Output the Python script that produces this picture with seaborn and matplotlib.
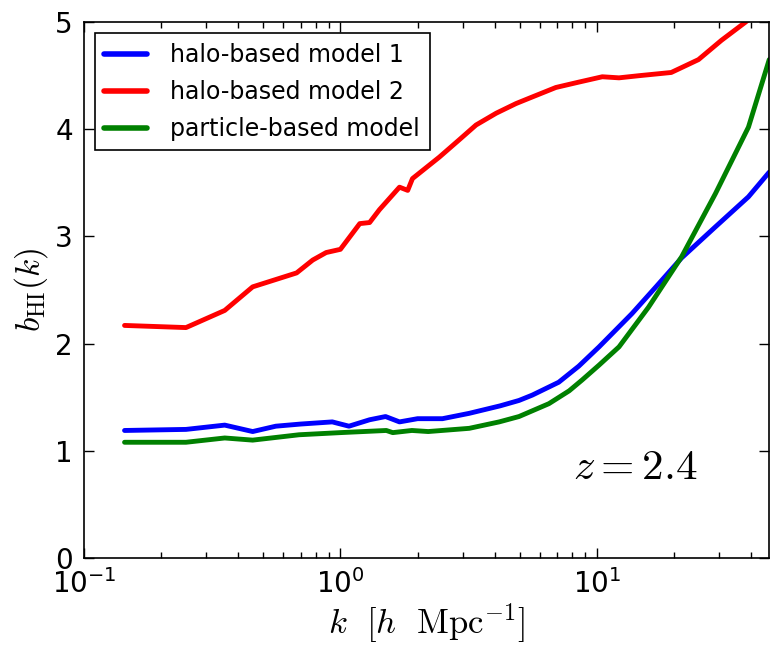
import numpy as np
import pandas as pd
import matplotlib
matplotlib.use("Agg")
import matplotlib.pyplot as plt
import seaborn as sns

# values (k in h/Mpc, bias b_HI)
k_halo1 = [0.144, 0.25, 0.354, 0.455, 0.56, 0.7, 0.93, 1.08, 1.3, 1.5, 1.7, 2.0, 2.5, 3.18,
           4.2, 4.97, 5.6, 7.1, 8.5, 10.2, 13.7, 17.0, 21.4, 29.0, 39.0, 47.0]
b_halo1 = [1.19, 1.20, 1.24, 1.18, 1.23, 1.25, 1.27, 1.23, 1.29, 1.32, 1.27, 1.30, 1.30, 1.35,
           1.42, 1.47, 1.52, 1.64, 1.79, 1.97, 2.28, 2.53, 2.80, 3.09, 3.37, 3.60]

k_halo2 = [0.144, 0.25, 0.354, 0.455, 0.675, 0.78, 0.88, 1.0, 1.19, 1.3, 1.42, 1.7, 1.83,
           1.91, 2.43, 2.9, 3.38, 4.05, 4.84, 5.58, 6.92, 8.5, 10.5, 12.2, 14.6, 19.5, 24.9,
           30.6, 38.0, 47.0]
b_halo2 = [2.17, 2.15, 2.31, 2.53, 2.66, 2.78, 2.85, 2.88, 3.12, 3.13, 3.25, 3.46, 3.43,
           3.54, 3.74, 3.90, 4.04, 4.15, 4.24, 4.30, 4.39, 4.44, 4.49, 4.48, 4.50, 4.53, 4.65,
           4.83, 5.00, 5.20]

k_part = [0.144, 0.25, 0.354, 0.455, 0.69, 1.0, 1.51, 1.6, 1.9, 2.2, 3.18, 4.16, 4.97, 6.5,
          7.8, 8.75, 10.2, 12.2, 15.9, 21.4, 29.0, 39.0, 47.0]
b_part = [1.08, 1.08, 1.12, 1.10, 1.15, 1.17, 1.19, 1.17, 1.19, 1.18, 1.21, 1.27, 1.32, 1.44,
          1.56, 1.66, 1.80, 1.97, 2.34, 2.81, 3.40, 4.02, 4.65]

labels = ["halo-based model 1", "halo-based model 2", "particle-based model"]
colors = ["#0000ff", "#ff0000", "#008000"]

df = pd.concat([
    pd.DataFrame({"k": k_halo1, "b": b_halo1, "model": labels[0]}),
    pd.DataFrame({"k": k_halo2, "b": b_halo2, "model": labels[1]}),
    pd.DataFrame({"k": k_part, "b": b_part, "model": labels[2]}),
])

sns.set_style("ticks")
plt.rcParams["font.family"] = ["DejaVu Sans"]
plt.rcParams["xtick.direction"] = "in"
plt.rcParams["ytick.direction"] = "in"
for key in ["text.color", "axes.labelcolor", "xtick.color", "ytick.color", "axes.edgecolor"]:
    plt.rcParams[key] = "black"

fig = plt.figure(figsize=(7.7, 6.5), dpi=100)
ax = fig.add_axes([0.109, 0.1415, 0.89, 0.8245])

sns.lineplot(data=df, x="k", y="b", hue="model", palette=dict(zip(labels, colors)),
             linewidth=3.5, sort=False, estimator=None, ax=ax)

ax.set_xscale("log")
ax.set_xlim(0.1, 47)
ax.set_ylim(0, 5)
ax.set_yticks([0, 1, 2, 3, 4, 5])

ax.tick_params(which="both", top=True, right=True, labelsize=20, pad=8)
ax.tick_params(which="major", length=7, width=1)
ax.tick_params(which="minor", length=4, width=1)
for s in ax.spines.values():
    s.set_linewidth(1.2)

ax.set_xlabel(r"$k\ \ [h\ \ \mathrm{Mpc}^{-1}]$", fontsize=25, math_fontfamily="cm", labelpad=2)
ax.set_ylabel(r"$b_{\rm HI}(k)$", fontsize=24, math_fontfamily="cm", labelpad=4)

ax.text(0.714, 0.17, r"$z=2.4$", transform=ax.transAxes, fontsize=31,
        math_fontfamily="cm", ha="left", va="center")

leg = ax.legend(loc="upper left", bbox_to_anchor=(0.016, 0.979), borderaxespad=0,
                fontsize=17, handlelength=1.8, handletextpad=1.0, labelspacing=0.55,
                fancybox=False, framealpha=1, edgecolor="black", title=None)
leg.get_frame().set_linewidth(1.2)
for line in leg.get_lines():
    line.set_linewidth(4)

fig.savefig("out.png", dpi=100)
